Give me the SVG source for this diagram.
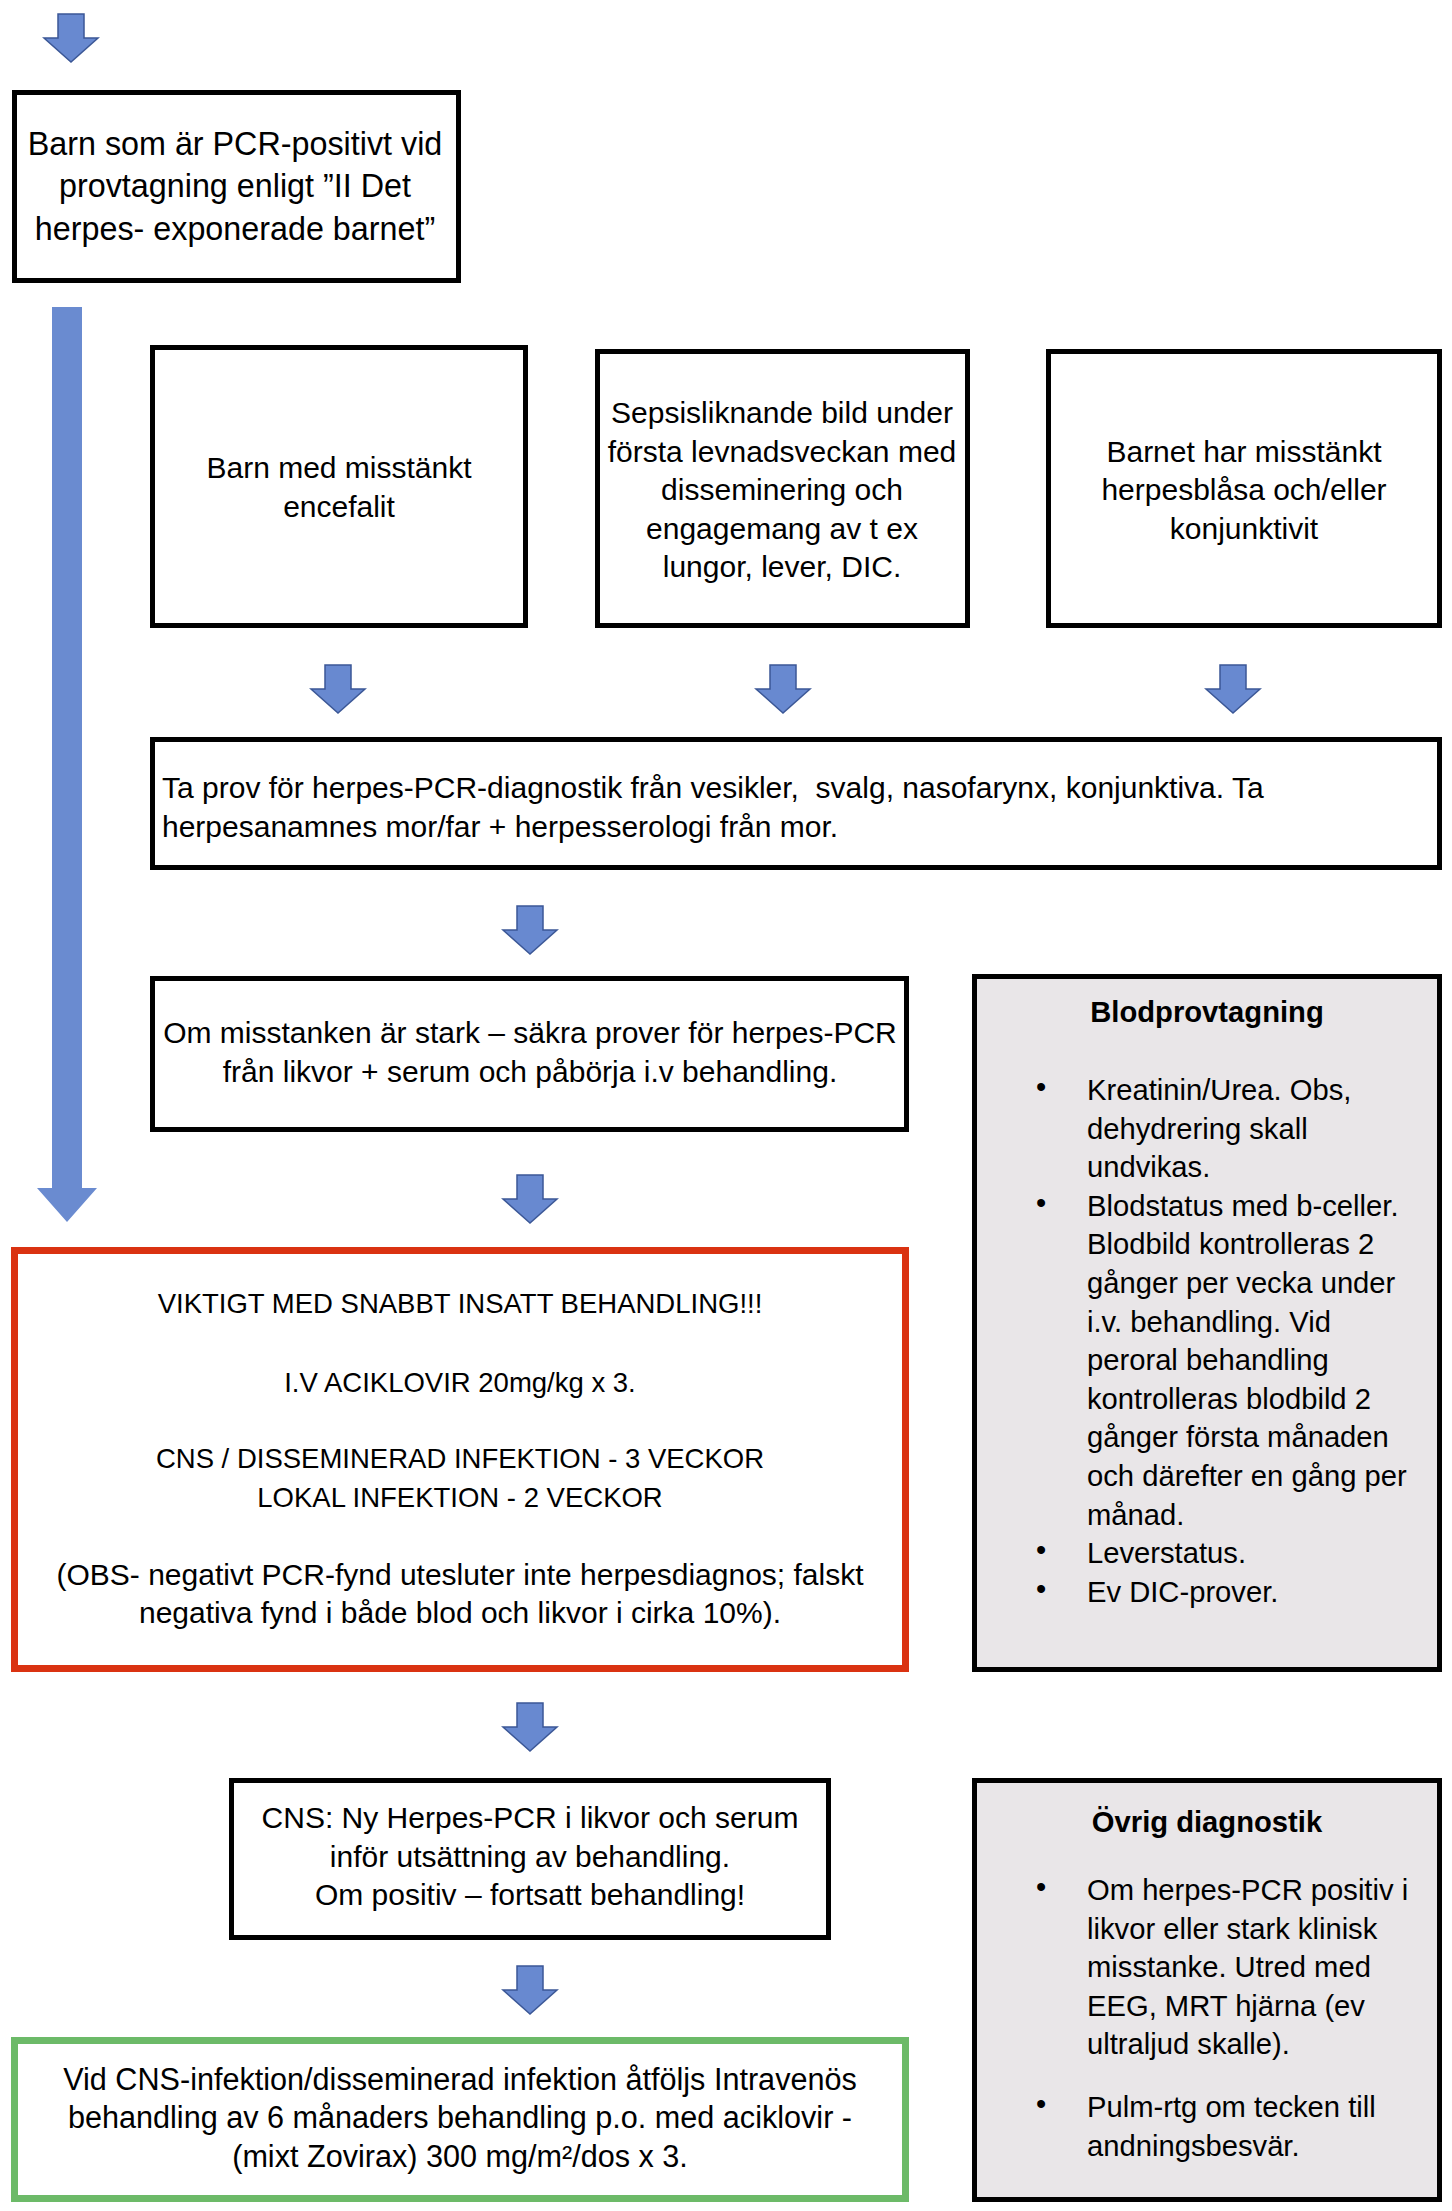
<svg xmlns="http://www.w3.org/2000/svg" xmlns:xlink="http://www.w3.org/1999/xlink" width="1452" height="2211" viewBox="0 0 1452 2211">
<style>
  .box{fill:#ffffff;stroke:#000000;stroke-width:5}
  .gray{fill:#E9E6E8;stroke:#000000;stroke-width:5}
  .red{fill:#ffffff;stroke:#DA3211;stroke-width:7}
  .green{fill:#ffffff;stroke:#6CBA68;stroke-width:7}
  text{font-family:"Liberation Sans",Arial,sans-serif;font-size:30px;fill:#000000}
  .c{text-anchor:middle}
  .big{font-size:32.3px}
  .b{font-weight:bold}
  .g{font-size:29.2px}
  .up{font-size:27.5px}
  .gr{font-size:30.6px}
  .arrow{fill:#6889D0;stroke:#3B5796;stroke-width:1.5;stroke-linejoin:miter}
</style>
<defs>
  <polygon id="arr" points="-13,0 13,0 13,24 27,24 0,48 -27,24 -13,24"/>
</defs>
<rect width="1452" height="2211" fill="#ffffff"/>
<g id="connectors">
  <use xlink:href="#arr" class="arrow" transform="translate(71,14)"/>
  <polygon points="52,307 82,307 82,1188 97,1188 67,1222 37,1188 52,1188" fill="#6A8BD0"/>
  <use xlink:href="#arr" class="arrow" transform="translate(338,665)"/>
  <use xlink:href="#arr" class="arrow" transform="translate(783,665)"/>
  <use xlink:href="#arr" class="arrow" transform="translate(1233,665)"/>
  <use xlink:href="#arr" class="arrow" transform="translate(530,906)"/>
  <use xlink:href="#arr" class="arrow" transform="translate(530,1175)"/>
  <use xlink:href="#arr" class="arrow" transform="translate(530,1703)"/>
  <use xlink:href="#arr" class="arrow" transform="translate(530,1966)"/>
</g>
<g id="n-start">
  <rect class="box" x="14.5" y="92.5" width="444" height="188"/>
  <text class="c big" x="235" y="155">Barn som är PCR-positivt vid</text>
  <text class="c big" x="235" y="197">provtagning enligt ”II Det</text>
  <text class="c big" x="235" y="240">herpes- exponerade barnet”</text>
</g>
<g id="n-encefalit">
  <rect class="box" x="152.5" y="347.5" width="373" height="278"/>
  <text class="c" x="339" y="478">Barn med misstänkt</text>
  <text class="c" x="339" y="517">encefalit</text>
</g>
<g id="n-sepsis">
  <rect class="box" x="597.5" y="351.5" width="370" height="274"/>
  <text class="c" x="782" y="423">Sepsisliknande bild under</text>
  <text class="c" x="782" y="462">första levnadsveckan med</text>
  <text class="c" x="782" y="500">disseminering och</text>
  <text class="c" x="782" y="539">engagemang av t ex</text>
  <text class="c" x="782" y="577">lungor, lever, DIC.</text>
</g>
<g id="n-blasa">
  <rect class="box" x="1048.5" y="351.5" width="391" height="274"/>
  <text class="c" x="1244" y="462">Barnet har misstänkt</text>
  <text class="c" x="1244" y="500">herpesblåsa och/eller</text>
  <text class="c" x="1244" y="539">konjunktivit</text>
</g>
<g id="n-prov">
  <rect class="box" x="152.5" y="739.5" width="1287" height="128"/>
  <text x="162" y="798" xml:space="preserve">Ta prov för herpes-PCR-diagnostik från vesikler,  svalg, nasofarynx, konjunktiva. Ta</text>
  <text x="162" y="837">herpesanamnes mor/far + herpesserologi från mor.</text>
</g>
<g id="n-misstanke">
  <rect class="box" x="152.5" y="978.5" width="754" height="151"/>
  <text class="c" x="530" y="1043">Om misstanken är stark – säkra prover för herpes-PCR</text>
  <text class="c" x="530" y="1082">från likvor + serum och påbörja i.v behandling.</text>
</g>
<g id="n-blodprov">
  <rect class="gray" x="974.5" y="976.5" width="465" height="693"/>
  <text class="c b g" x="1207" y="1022">Blodprovtagning</text>
  <text class="g" x="1036" y="1097">•</text>
  <text class="g" x="1087" y="1100">Kreatinin/Urea. Obs,</text>
  <text class="g" x="1087" y="1138.6">dehydrering skall</text>
  <text class="g" x="1087" y="1177.2">undvikas.</text>
  <text class="g" x="1036" y="1212.8">•</text>
  <text class="g" x="1087" y="1215.8">Blodstatus med b-celler.</text>
  <text class="g" x="1087" y="1254.4">Blodbild kontrolleras 2</text>
  <text class="g" x="1087" y="1293">gånger per vecka under</text>
  <text class="g" x="1087" y="1331.6">i.v. behandling. Vid</text>
  <text class="g" x="1087" y="1370.2">peroral behandling</text>
  <text class="g" x="1087" y="1408.8">kontrolleras blodbild 2</text>
  <text class="g" x="1087" y="1447.4">gånger första månaden</text>
  <text class="g" x="1087" y="1486">och därefter en gång per</text>
  <text class="g" x="1087" y="1524.6">månad.</text>
  <text class="g" x="1036" y="1560.2">•</text>
  <text class="g" x="1087" y="1563.2">Leverstatus.</text>
  <text class="g" x="1036" y="1598.8">•</text>
  <text class="g" x="1087" y="1601.8">Ev DIC-prover.</text>
</g>
<g id="n-behandling">
  <rect class="red" x="14.5" y="1250.5" width="891" height="418"/>
  <text class="c up" x="460" y="1313">VIKTIGT MED SNABBT INSATT BEHANDLING!!!</text>
  <text class="c up" x="460" y="1392">I.V ACIKLOVIR 20mg/kg x 3.</text>
  <text class="c up" x="460" y="1468">CNS / DISSEMINERAD INFEKTION - 3 VECKOR</text>
  <text class="c up" x="460" y="1507">LOKAL INFEKTION - 2 VECKOR</text>
  <text class="c" x="460" y="1585">(OBS- negativt PCR-fynd utesluter inte herpesdiagnos; falskt</text>
  <text class="c" x="460" y="1623">negativa fynd i både blod och likvor i cirka 10%).</text>
</g>
<g id="n-cns">
  <rect class="box" x="231.5" y="1780.5" width="597" height="157"/>
  <text class="c" x="530" y="1828">CNS: Ny Herpes-PCR i likvor och serum</text>
  <text class="c" x="530" y="1867">inför utsättning av behandling.</text>
  <text class="c" x="530" y="1905">Om positiv – fortsatt behandling!</text>
</g>
<g id="n-peroral">
  <rect class="green" x="14.5" y="2040.5" width="891" height="158"/>
  <text class="c gr" x="460" y="2090">Vid CNS-infektion/disseminerad infektion åtföljs Intravenös</text>
  <text class="c gr" x="460" y="2128">behandling av 6 månaders behandling p.o. med aciklovir -</text>
  <text class="c gr" x="460" y="2167">(mixt Zovirax) 300 mg/m²/dos x 3.</text>
</g>
<g id="n-ovrig">
  <rect class="gray" x="974.5" y="1780.5" width="465" height="419"/>
  <text class="c b g" x="1207" y="1832">Övrig diagnostik</text>
  <text class="g" x="1036" y="1897">•</text>
  <text class="g" x="1087" y="1900">Om herpes-PCR positiv i</text>
  <text class="g" x="1087" y="1938.6">likvor eller stark klinisk</text>
  <text class="g" x="1087" y="1977.2">misstanke. Utred med</text>
  <text class="g" x="1087" y="2015.8">EEG, MRT hjärna (ev</text>
  <text class="g" x="1087" y="2054.4">ultraljud skalle).</text>
  <text class="g" x="1036" y="2114">•</text>
  <text class="g" x="1087" y="2117">Pulm-rtg om tecken till</text>
  <text class="g" x="1087" y="2155.6">andningsbesvär.</text>
</g>
</svg>
